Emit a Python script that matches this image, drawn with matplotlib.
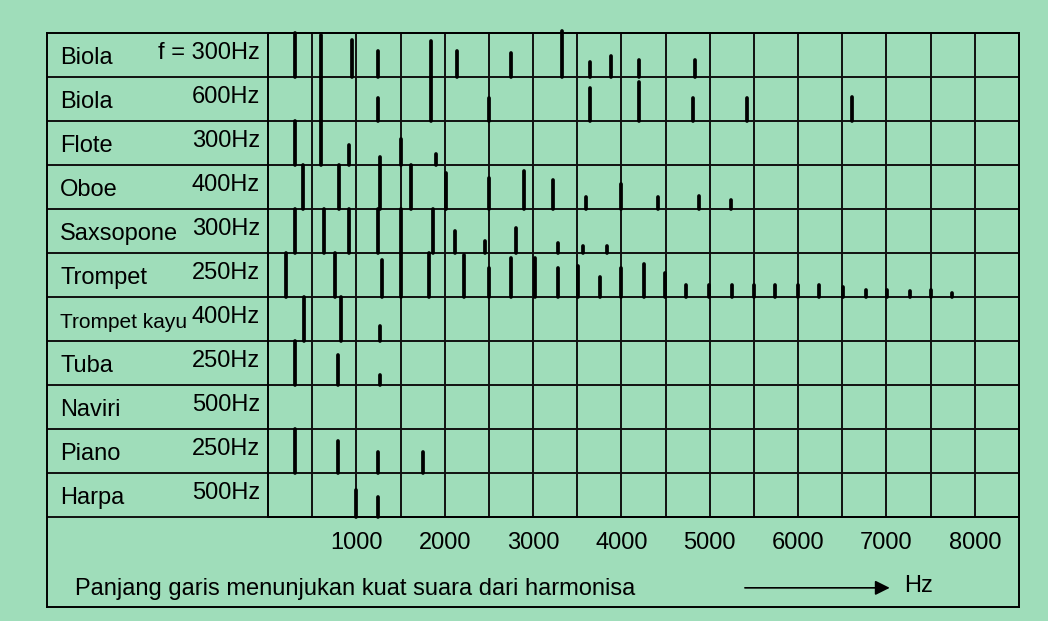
import matplotlib
matplotlib.use("Agg")
import matplotlib.pyplot as plt
from matplotlib import font_manager
import numpy as np

plt.rcParams['font.family'] = ['Liberation Sans', 'DejaVu Sans']

# rows, top to bottom
instruments = ["Biola", "Biola", "Flote", "Oboe", "Saxsopone", "Trompet",
               "Trompet kayu", "Tuba", "Naviri", "Piano", "Harpa"]
fundamentals = ["f = 300Hz", "600Hz", "300Hz", "400Hz", "300Hz", "250Hz",
                "400Hz", "250Hz", "500Hz", "250Hz", "500Hz"]

# harmonic position (Hz) and line length (fraction of the row height)
biola300_hz = [305, 600, 950, 1245, 1840, 2140, 2745, 3325, 3640, 3880, 4195, 4830]
biola300_amp = [1.0, 0.95, 0.83, 0.6, 0.81, 0.6, 0.55, 1.05, 0.33, 0.48, 0.38, 0.38]

biola600_hz = [600, 1245, 1840, 2500, 3640, 4195, 4810, 5420, 6605]
biola600_amp = [1.0, 0.52, 1.0, 0.52, 0.74, 0.89, 0.52, 0.52, 0.55]

flote_hz = [305, 600, 915, 1267, 1505, 1900]
flote_amp = [1.0, 1.0, 0.45, 0.18, 0.6, 0.25]

oboe_hz = [396, 803, 1267, 1618, 2013, 2500, 2896, 3224, 3597, 3993, 4412, 4876, 5240]
oboe_amp = [1.0, 1.0, 1.0, 1.0, 0.82, 0.71, 0.87, 0.67, 0.27, 0.56, 0.27, 0.29, 0.2]

sax_hz = [305, 633, 915, 1245, 1505, 1867, 2115, 2455, 2805, 3280, 3563, 3835]
sax_amp = [1.0, 1.0, 1.0, 1.0, 1.0, 1.0, 0.49, 0.28, 0.56, 0.23, 0.16, 0.16]

trompet_hz = [205, 758, 1290, 1505, 1820, 2217, 2500, 2749, 3020, 3280, 3507,
              3756, 3993, 4253, 4491, 4729, 4989, 5249, 5498, 5735, 6000, 6233,
              6504, 6765, 7002, 7262, 7500, 7738]
trompet_amp = [1.0, 1.0, 0.85, 1.0, 1.0, 0.95, 0.65, 0.89, 0.89, 0.65, 0.7,
               0.46, 0.65, 0.76, 0.54, 0.28, 0.28, 0.28, 0.28, 0.28, 0.28, 0.28,
               0.22, 0.17, 0.17, 0.13, 0.17, 0.1]

kayu_hz = [407, 826, 1267]
kayu_amp = [1.0, 1.0, 0.33]

tuba_hz = [305, 792, 1267]
tuba_amp = [1.0, 0.69, 0.22]

naviri_hz = []
naviri_amp = []

piano_hz = [305, 792, 1245, 1753]
piano_amp = [1.0, 0.73, 0.47, 0.47]

harpa_hz = [995, 1245]
harpa_amp = [0.61, 0.46]

freq_ticks = [1000, 2000, 3000, 4000, 5000, 6000, 7000, 8000]

rows_hz = [biola300_hz, biola600_hz, flote_hz, oboe_hz, sax_hz, trompet_hz,
           kayu_hz, tuba_hz, naviri_hz, piano_hz, harpa_hz]
rows_amp = [biola300_amp, biola600_amp, flote_amp, oboe_amp, sax_amp, trompet_amp,
            kayu_amp, tuba_amp, naviri_amp, piano_amp, harpa_amp]

bg = "#9fddba"
W, H = 1048, 621
n = len(instruments)
row_px = (517 - 33) / n
fs = 17

# the long "Trompet kayu" label is squeezed in the original
installed = {f.name for f in font_manager.fontManager.ttflist}
if 'Liberation Sans Narrow' in installed:
    narrow = dict(family=['Liberation Sans Narrow', 'DejaVu Sans'], fontsize=fs)
else:
    narrow = dict(fontsize=15)


def box(l, t, r, b):
    return [l / W, 1 - b / H, (r - l) / W, (b - t) / H]


fig = plt.figure(figsize=(W / 100, H / 100), dpi=100, facecolor=bg)

# outer frame incl. label column and bottom strip
frame = fig.add_axes(box(47, 33, 1019, 607))
frame.set_facecolor(bg)
frame.set_xlim(0, 1)
frame.set_ylim(-(607 - 517) / row_px, n)
frame.set_xticks([])
frame.set_yticks([])
for s in frame.spines.values():
    s.set_linewidth(1.4)
frame.hlines(np.arange(0, n), 0, 1, colors='#111111', lw=1.4)

for i, (name, f0) in enumerate(zip(instruments, fundamentals)):
    yc = n - i - 0.5
    style = narrow if len(name) > 10 else dict(fontsize=fs)
    frame.text(0.0134, yc - 0.07, name, ha='left', va='center', **style)
    frame.text(0.219, yc + 0.05, f0, fontsize=fs, ha='right', va='center')

frame.text(0.0288, -1.63, "Panjang garis menunjukan kuat suara dari harmonisa",
           fontsize=fs, ha='left', va='center')
frame.annotate("", xy=(0.867, -1.61), xytext=(0.718, -1.61),
               arrowprops=dict(arrowstyle='-|>', color='k', lw=1.2,
                               mutation_scale=22, shrinkA=0, shrinkB=0))
frame.text(0.882, -1.56, "Hz", fontsize=fs, ha='left', va='center')

# spectrum area
ax = fig.add_axes(box(268, 33, 1019, 517))
ax.set_facecolor('none')
ax.set_xlim(0, 8500)
ax.set_ylim(0, n)
ax.vlines(np.arange(500, 8500, 500), 0, n, colors='#111111', lw=1.4, zorder=1)
for s in ax.spines.values():
    s.set_linewidth(1.4)

for i, (hz, amp) in enumerate(zip(rows_hz, rows_amp)):
    if not hz:
        continue
    base = n - i - 1
    ax.vlines(hz, base, base + np.array(amp), colors='k', lw=2.7,
              capstyle='round', zorder=3, clip_on=False)

ax.set_yticks([])
ax.set_xticks(freq_ticks, [str(t) for t in freq_ticks])
ax.tick_params(axis='x', length=0, pad=11, labelsize=fs)

fig.savefig("out.png", dpi=100, facecolor=bg)
